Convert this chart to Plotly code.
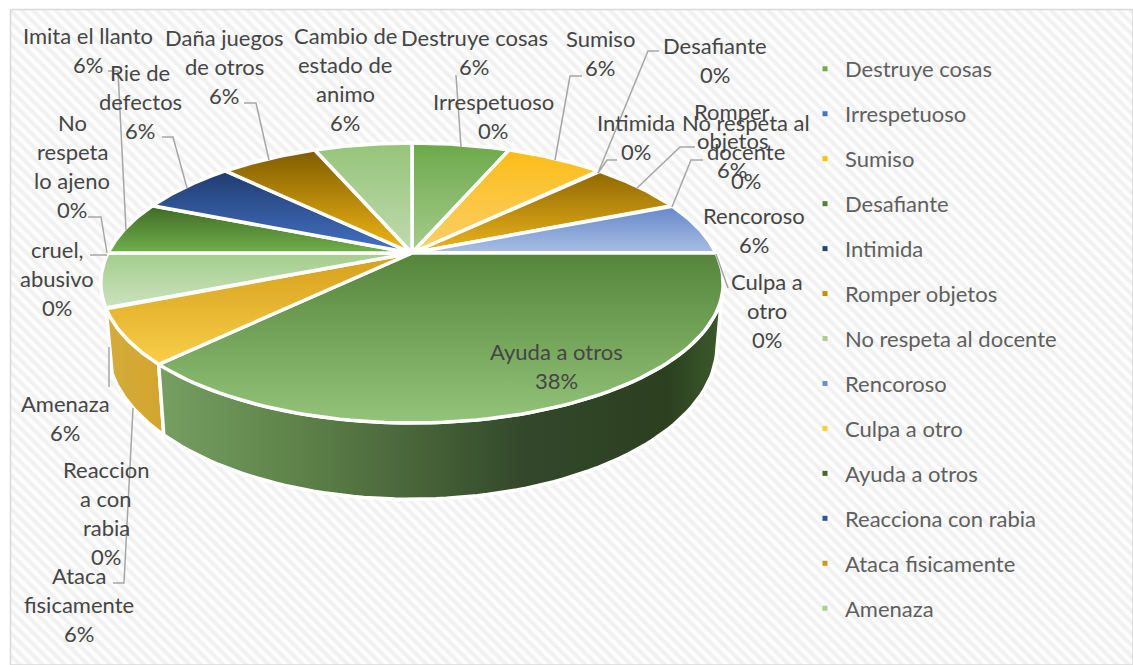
import numpy as np
import plotly.graph_objects as go

# ---------- data ----------
categories = ["Destruye cosas", "Irrespetuoso", "Sumiso", "Desafiante", "Intimida",
              "Romper objetos", "No respeta al docente", "Rencoroso", "Culpa a otro",
              "Ayuda a otros", "Reacciona con rabia", "Ataca fisicamente", "Amenaza",
              "cruel, abusivo", "No respeta lo ajeno", "Imita el llanto", "Rie de defectos",
              "Daña juegos de otros", "Cambio de estado de animo"]
values = [1, 0, 1, 0, 0, 1, 0, 1, 0, 6, 0, 1, 1, 0, 0, 1, 1, 1, 1]
legend_count = 13
legend_colors = ["#70AD47", "#4472C4", "#FFC000", "#548235", "#264478", "#BF9000", "#A9D18E",
                 "#698ED0", "#FFCD33", "#43682B", "#2F5597", "#C99A1A", "#A9D18E"]
# slice gradient (top colour, bottom colour)
top_colors = ["#6CA94A", "", "#FDBD16", "", "", "#8F6700", "", "#6488CA", "", "#55853A", "",
              "#D59F1B", "#A4CE8C", "", "", "#3F6A25", "#203C70", "#7F5C00", "#96C47A"]
bottom_colors = ["#A6CC8E", "", "#F9CF6C", "", "", "#EDB51C", "", "#A9BEE3", "", "#93C47A", "",
                 "#F9CE48", "#CBE2BE", "", "", "#71B04B", "#4472C4", "#F2B716", "#BFDAAE"]

# wrapped label text: centre x, y of first line, spacing
label_lines = [["Destruye cosas"], ["Irrespetuoso"], ["Sumiso"], ["Desafiante"], ["Intimida"],
               ["Romper", "objetos"], ["No respeta al", "docente"], ["Rencoroso"], ["Culpa a", "otro"],
               ["Ayuda a otros"], ["Reaccion", "a con", "rabia"], ["Ataca", "fisicamente"], ["Amenaza"],
               ["cruel,", "abusivo"], ["No", "respeta", "lo ajeno"], ["Imita el llanto"], ["Rie de", "defectos"],
               ["Daña juegos", "de otros"], ["Cambio de", "estado de", "animo"]]
label_x = [474, 493, 600, 715, 636, 732, 746, 754, 767, 556, 106, 79, 65, 57, 72, 88, 140, 224, 345]
label_y = [37, 101, 38, 45, 122, 111, 122, 215, 281, 351, 469, 575, 403, 249, 122, 35, 72, 37, 35]

leaders = [
    [(108, 71), (118, 71), (126, 230)],
    [(162, 137), (173, 137), (187, 188)],
    [(244, 103), (256, 103), (269, 160)],
    [(456, 75), (461, 147)],
    [(582, 76), (570, 76), (555, 160)],
    [(659, 51), (648, 51), (598, 173)],
    [(617, 160), (607, 160), (598, 173)],
    [(695, 147), (680, 147), (637, 188)],
    [(703, 160), (691, 160), (672, 207)],
    [(716, 254), (728, 288)],
    [(113, 583), (124, 583), (133, 408)],
    [(109, 387), (109, 347)],
    [(90, 255), (107, 255)],
    [(88, 217), (101, 217), (107, 253)],
]

# ---------- pie geometry (perspective projected disc) ----------
CX, CY, R, A, K, DEPTH, BOTTOM_X = 412, 253, 304, 133.6, 0.214, 60, 0.98
FONT = "Lato"
SIZE = 22
LABEL_COLOR = "#454545"
LEGEND_COLOR = "#5F5F5F"
STEP = 29.3
EDGE = 3.5


def rim(theta, bottom=False):
    u, v = np.sin(theta), np.cos(theta)
    w = 1 + K * v
    x = R * u / w
    y = -A * v / w
    if bottom:
        return CX + x * BOTTOM_X, CY + y + DEPTH / w
    return CX + x, CY + y


fig = go.Figure()
# hatched chart background
fig.add_trace(go.Scatter(x=[10.5, 1133, 1133, 10.5, 10.5], y=[9.5, 9.5, 665, 665, 9.5], mode="lines",
                         fill="toself", line=dict(color="#D9D9D9", width=1.5),
                         fillpattern=dict(shape="\\", size=8, solidity=0.5, fgcolor="#E6E6E6", bgcolor="#FDFDFD"),
                         hoverinfo="skip", showlegend=False))

total = sum(values)
edges = np.concatenate([[0], np.cumsum(values)]) / total * 2 * np.pi
SIL = np.radians(101)


def add_wall(t0, t1, colors):
    th = np.linspace(t0, t1, 80)
    tx, ty = rim(th)
    bx, by = rim(th[::-1], bottom=True)
    fig.add_trace(go.Scatter(x=np.r_[tx, bx, tx[0]], y=np.r_[ty, by, ty[0]], mode="lines", fill="toself",
                             line=dict(color="white", width=EDGE),
                             fillgradient=dict(type="horizontal", colorscale=colors),
                             hoverinfo="skip", showlegend=False))


ayuda = categories.index("Ayuda a otros")
ataca = categories.index("Ataca fisicamente")
amenaza = categories.index("Amenaza")
add_wall(edges[ataca], edges[amenaza], [[0, "#D4AC3C"], [1, "#D2A52C"]])
add_wall(max(edges[ayuda], SIL), edges[ayuda + 1],
         [[0, "#769F62"], [0.25, "#5E8249"], [0.65, "#33482A"], [0.9, "#2C4020"], [1, "#3D5A2C"]])

for i, name in enumerate(categories):
    if values[i] == 0:
        continue
    th = np.linspace(edges[i], edges[i + 1], 80)
    px, py = rim(th)
    # the y axis runs downwards on the page, so the scale starts at the top of the slice
    fig.add_trace(go.Scatter(x=np.r_[CX, px, CX], y=np.r_[CY, py, CY], mode="lines", fill="toself",
                             line=dict(color="white", width=EDGE),
                             fillgradient=dict(type="vertical",
                                               colorscale=[[0, top_colors[i]], [1, bottom_colors[i]]],
                                               start=float(np.min(np.r_[CY, py])), stop=float(np.max(np.r_[CY, py]))),
                             hoverinfo="skip", showlegend=False, name=name))

# legend entries
for i in range(legend_count):
    fig.add_trace(go.Scatter(x=[None], y=[None], mode="markers", name=categories[i], legendgroup=categories[i],
                             marker=dict(symbol="square", size=5, color=legend_colors[i])))

# labels
annotations = []
for i, lines in enumerate(label_lines):
    pct = f"{round(values[i] / total * 100)}%"
    for j, t in enumerate(lines + [pct]):
        annotations.append(dict(x=label_x[i], y=label_y[i] + j * STEP, text=t, showarrow=False,
                                xanchor="center", yanchor="middle", xref="x", yref="y",
                                font=dict(family=FONT, size=SIZE, color=LABEL_COLOR)))

shapes = []
for pts in leaders:
    path = "M " + " L ".join(f"{x} {y}" for x, y in pts)
    shapes.append(dict(type="path", path=path, xref="x", yref="y", layer="above",
                       line=dict(color="#A6A6A6", width=1.5)))
for i in range(legend_count):
    yc = 69 + 45 * i
    shapes.append(dict(type="rect", x0=815, x1=835, y0=yc - 11, y1=yc + 11, xref="x", yref="y",
                       layer="between", fillcolor="rgba(255,255,255,0.9)", line=dict(width=0)))

fig.update_layout(
    width=1133, height=665, autosize=False,
    margin=dict(l=0, r=0, t=0, b=0),
    paper_bgcolor="white", plot_bgcolor="white",
    xaxis=dict(range=[0, 1133], visible=False, fixedrange=True),
    yaxis=dict(range=[665, 0], visible=False, fixedrange=True),
    legend=dict(x=805 / 1133, y=1 - 48 / 665, xanchor="left", yanchor="top", bgcolor="rgba(0,0,0,0)",
                tracegroupgap=13.35, font=dict(family=FONT, size=SIZE, color=LEGEND_COLOR),
                itemsizing="trace"),
    annotations=annotations, shapes=shapes,
)
fig.write_html("out.html", post_script="document.body.style.margin='0';",
               config=dict(displayModeBar=False))
